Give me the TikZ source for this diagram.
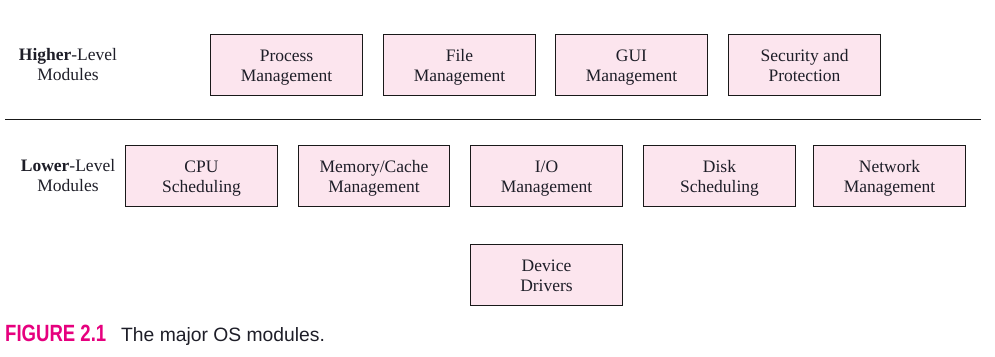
\documentclass[tikz,border=0pt]{standalone}
\usepackage{fontspec}
\setmainfont{Liberation Serif}
\newfontfamily\capfont{Liberation Sans}
\usepackage{graphicx}
\definecolor{boxfill}{RGB}{252,229,238}
\definecolor{figmag}{RGB}{230,0,126}
\definecolor{txtdark}{RGB}{30,30,40}
\newcommand{\twol}[2]{\rule{0pt}{16pt}#1\\#2\rule[-4pt]{0pt}{4pt}}
\begin{document}
\begin{tikzpicture}[x=1pt,y=-1pt,
  modbox/.style={draw=black!90, line width=1pt, fill=boxfill, minimum width=152pt, minimum height=61pt, inner sep=0pt, align=center, text=txtdark, font=\fontsize{17.5}{20}\selectfont, anchor=north west},
  lvl/.style={align=center, text=txtdark, font=\fontsize{17.5}{20}\selectfont, inner sep=0pt}]
\useasboundingbox (0,0) rectangle (995,356);
% top row
\node[modbox] (proc) at (210,34) {\twol{Process}{Management}};
\node[modbox] (file) at (383,34) {\twol{File}{Management}};
\node[modbox] (gui) at (555,34) {\twol{GUI}{Management}};
\node[modbox] (sec) at (728,34) {\twol{Security and}{Protection}};
% separator
\coordinate (sepL) at (5,119);
\coordinate (sepR) at (981,119);
\draw[line width=0.9pt, black!90] (sepL) -- (sepR);
% bottom row
\node[modbox] (cpu) at (125,145) {\twol{CPU}{Scheduling}};
\node[modbox, minimum width=151pt] (mem) at (298,145) {\twol{Memory/Cache}{Management}};
\node[modbox] (io) at (470,145) {\twol{I/O}{Management}};
\node[modbox] (disk) at (643,145) {\twol{Disk}{Scheduling}};
\node[modbox] (net) at (813,145) {\twol{Network}{Management}};
\node[modbox] (dev) at (470,244) {\twol{Device}{Drivers}};
% level labels
\node[lvl] (hl) at (68,64.5) {\twol{\textbf{Higher}-Level}{Modules}};
\node[lvl] (ll) at (68,175.5) {\twol{\textbf{Lower}-Level}{Modules}};
% caption
\node[anchor=base west, inner sep=0pt, text=figmag, font=\capfont\fontsize{23.5}{24}\selectfont\bfseries] (fig) at (5,341) {\scalebox{0.79}[1]{FIGURE 2.1}};
\node[anchor=base west, inner sep=0pt, text=txtdark, font=\capfont\fontsize{19.3}{22}\selectfont] (cap) at (121,341) {The major OS modules.};
\end{tikzpicture}
\end{document}
